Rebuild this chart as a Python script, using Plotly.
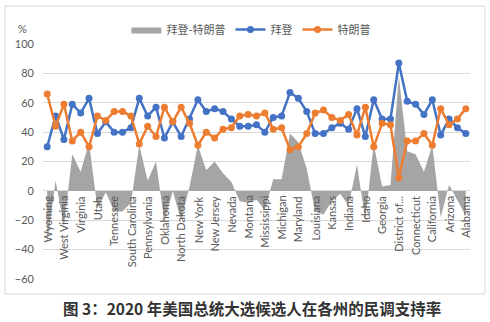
import plotly.graph_objects as go

states = ["Wyoming", "Wisconsin", "West Virginia", "Washington", "Virginia", "Vermont", "Utah", "Texas",
          "Tennessee", "South Dakota", "South Carolina", "Rhode Island", "Pennsylvania", "Oregon", "Oklahoma",
          "Ohio", "North Dakota", "North Carolina", "New York", "New Mexico", "New Jersey", "New Hampshire",
          "Nevada", "Nebraska", "Montana", "Missouri", "Mississippi", "Minnesota", "Michigan", "Massachusetts",
          "Maryland", "Maine", "Louisiana", "Kentucky", "Kansas", "Iowa", "Indiana", "Illinois", "Idaho",
          "Hawaii", "Georgia", "Florida", "District of...", "Delaware", "Connecticut", "Colorado", "California",
          "Arkansas", "Arizona", "Alaska", "Alabama"]

biden = [30, 51, 35, 59, 53, 63, 39, 47, 40, 40, 43, 63, 51, 57, 36, 47, 37, 49, 62, 54, 56, 54, 49, 44, 44,
         45, 40, 50, 51, 67, 63, 54, 39, 39, 43, 46, 42, 56, 37, 62, 49, 49, 87, 61, 59, 52, 62, 38, 49, 43, 39]

trump = [66, 44, 59, 34, 40, 30, 51, 48, 54, 54, 51, 32, 44, 37, 57, 47, 57, 46, 31, 40, 36, 42, 43, 51, 52,
         51, 53, 42, 43, 28, 30, 39, 53, 55, 50, 48, 52, 38, 57, 30, 46, 45, 9, 34, 34, 39, 31, 56, 45, 49, 56]

diff = [-36, 7, -24, 25, 13, 33, -12, -1, -14, -14, -8, 31, 7, 20, -21, 0, -20, 3, 31, 14, 20, 12, 6, -7, -8,
        -6, -13, 8, 8, 39, 33, 15, -14, -16, -7, -2, -10, 18, -20, 32, 3, 4, 78, 27, 25, 13, 31, -18, 4, -6, -17]

y_ticks = [-60, -40, -20, 0, 20, 40, 60, 80, 100]
title_text = "图 3：2020 年美国总统大选候选人在各州的民调支持率"

FONT = "Lato, 'Noto Sans CJK SC', sans-serif"
GRAY_TXT = "#595959"

fig = go.Figure()
fig.add_trace(go.Scatter(x=states, y=diff, mode="lines", name="拜登-特朗普",
                         line=dict(color="#A5A5A5", width=0), fill="tozeroy",
                         fillcolor="#A5A5A5"))
fig.add_trace(go.Scatter(x=states, y=biden, mode="lines+markers", name="拜登",
                         line=dict(color="#4472C4", width=2.5),
                         marker=dict(color="#4472C4", size=7)))
fig.add_trace(go.Scatter(x=states, y=trump, mode="lines+markers", name="特朗普",
                         line=dict(color="#ED7D31", width=2.5),
                         marker=dict(color="#ED7D31", size=7)))

annotations = []
for i, s in enumerate(states):
    if i % 2 == 0:
        annotations.append(dict(x=s, y=0, xref="x", yref="y", text=s, showarrow=False,
                                textangle=-90, xanchor="center", yanchor="top", yshift=-3,
                                font=dict(family=FONT, size=11, color=GRAY_TXT)))
annotations.append(dict(x=-0.048, y=1.068, xref="paper", yref="paper", text="%", showarrow=False,
                        xanchor="center", yanchor="middle",
                        font=dict(family=FONT, size=11, color=GRAY_TXT)))
annotations.append(dict(x=0.49, y=-0.123, xref="paper", yref="paper", text="<b>" + title_text + "</b>",
                        showarrow=False, xanchor="center", yanchor="middle",
                        font=dict(family="'Noto Sans CJK SC', sans-serif", size=15.5, color="#333333")))

fig.update_layout(
    width=490, height=322,
    margin=dict(l=42.5, r=20, t=44, b=43),
    paper_bgcolor="white", plot_bgcolor="white",
    showlegend=True,
    legend=dict(orientation="h", x=0.488, y=1.062, xanchor="center", yanchor="middle",
                font=dict(family=FONT, size=11, color=GRAY_TXT), itemwidth=30,
                bgcolor="rgba(0,0,0,0)"),
    xaxis=dict(type="category", range=[-0.5, len(states) - 0.5], showticklabels=False,
               showgrid=False, zeroline=False, showline=False, ticks=""),
    yaxis=dict(range=[-60, 100], tickvals=y_ticks, showgrid=True, gridcolor="#D9D9D9", gridwidth=1,
               zeroline=True, zerolinecolor="#D9D9D9", zerolinewidth=1, showline=False,
               tickfont=dict(family=FONT, size=11, color=GRAY_TXT), ticklabelstandoff=8),
    annotations=annotations,
    shapes=[dict(type="rect", xref="paper", yref="paper", x0=-0.0889, x1=1.035, y0=-0.0638, y1=1.1617,
                 line=dict(color="#D9D9D9", width=1), fillcolor="rgba(0,0,0,0)", layer="below")],
)

fig.write_html("out.html")
